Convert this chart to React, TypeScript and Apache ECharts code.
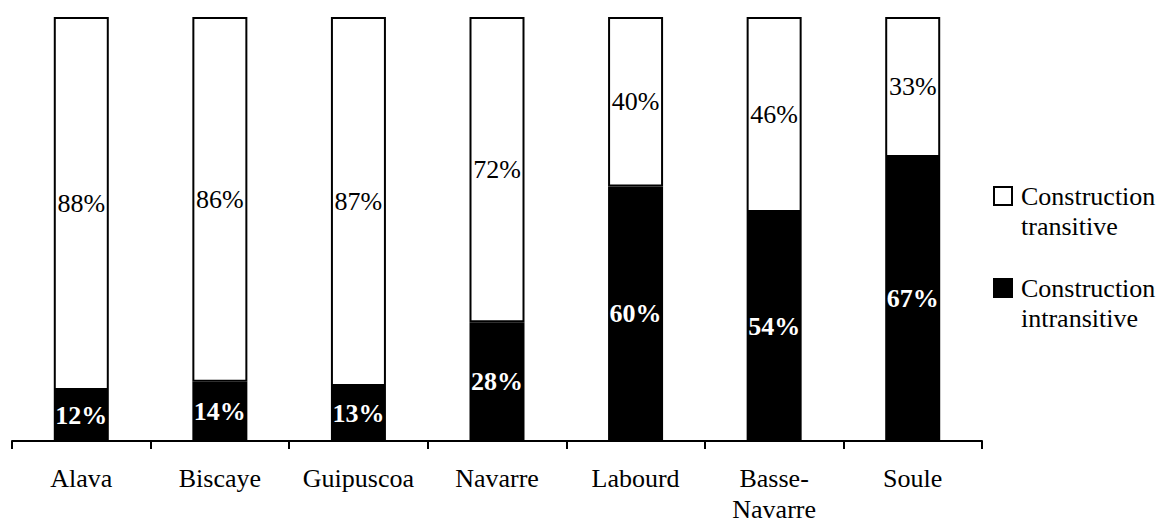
import React, { useEffect, useRef } from "react";
import * as echarts from "echarts";

const categories = ["Alava", "Biscaye", "Guipuscoa", "Navarre", "Labourd", "Basse-Navarre", "Soule"];
const intransitiveValues = [12, 14, 13, 28, 60, 54, 67];
const transitiveValues = [88, 86, 87, 72, 40, 46, 33];
const seriesNames = ["Construction transitive", "Construction intransitive"];

const FONT = "'Liberation Serif', 'Times New Roman', serif";

export default function App() {
  const ref = useRef<HTMLDivElement>(null);
  useEffect(() => {
    document.body.style.margin = "0";
    const chart = echarts.init(ref.current!, undefined, { renderer: "svg" });
    chart.setOption({
      animation: false,
      backgroundColor: "#ffffff",
      textStyle: { fontFamily: FONT, color: "#000" },
      grid: { left: 12, right: 176, top: 17, bottom: 84, outerBoundsMode: "none", containLabel: false },
      legend: {
        orient: "vertical",
        left: 993,
        top: 151,
        padding: 0,
        itemGap: 2,
        itemWidth: 18,
        itemHeight: 18,
        icon: "rect",
        selectedMode: false,
        data: seriesNames,
        formatter: (name: string) => "\n" + name.replace(" ", "\n"),
        textStyle: {
          fontFamily: FONT,
          fontSize: 26,
          color: "#000",
          lineHeight: 30,
          padding: [0, 0, 0, 4],
        },
      },
      xAxis: {
        type: "category",
        data: categories,
        axisLine: { show: true, lineStyle: { color: "#000", width: 2 } },
        axisTick: { show: true, length: 8, alignWithLabel: false, lineStyle: { color: "#000", width: 2 } },
        axisLabel: {
          fontFamily: FONT,
          fontSize: 26,
          color: "#000",
          lineHeight: 31,
          margin: 22,
          interval: 0,
          formatter: (v: string) => v.replace("-", "-\n"),
        },
      },
      yAxis: {
        type: "value",
        min: 0,
        max: 100,
        show: false,
        splitLine: { show: false },
      },
      series: [
        {
          name: seriesNames[1],
          type: "bar",
          stack: "total",
          barWidth: 55,
          data: intransitiveValues,
          itemStyle: { color: "#000", borderColor: "#000", borderWidth: 2 },
          label: {
            show: true,
            position: "inside",
            formatter: "{c}%",
            fontFamily: FONT,
            fontSize: 26,
            fontWeight: "bold",
            color: "#fff",
          },
        },
        {
          name: seriesNames[0],
          type: "bar",
          stack: "total",
          barWidth: 55,
          data: transitiveValues,
          itemStyle: { color: "#fff", borderColor: "#000", borderWidth: 2 },
          label: {
            show: true,
            position: "inside",
            formatter: "{c}%",
            fontFamily: FONT,
            fontSize: 26,
            color: "#000",
          },
        },
      ],
    });
    return () => chart.dispose();
  }, []);
  return <div ref={ref} style={{ width: 1158, height: 525 }} />;
}
